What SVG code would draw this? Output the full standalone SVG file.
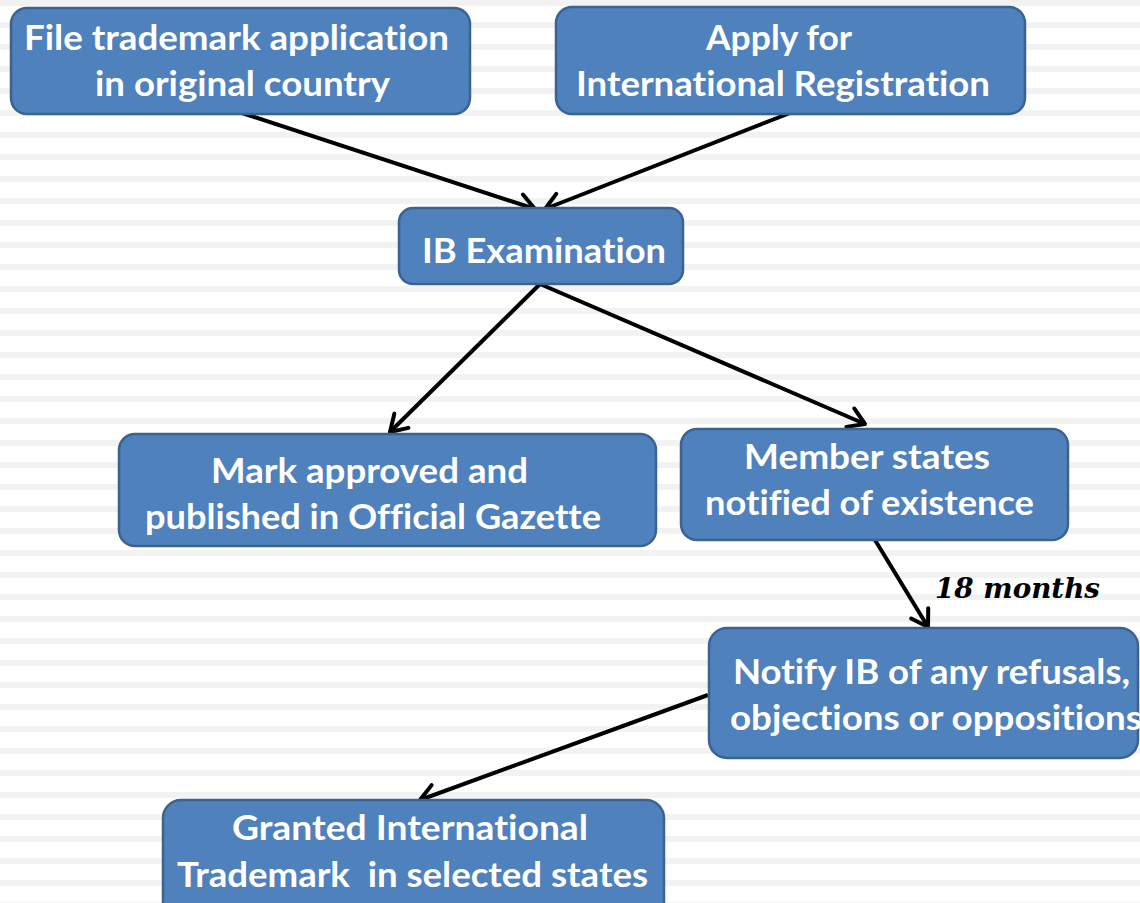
<svg xmlns="http://www.w3.org/2000/svg" width="1140" height="903" viewBox="0 0 1140 903">
<defs>
<pattern id="stripes" x="0" y="0" width="1140" height="22" patternUnits="userSpaceOnUse">
<rect x="0" y="0" width="1140" height="6" fill="#f2f2f2"/>
</pattern>
<marker id="arr" markerUnits="userSpaceOnUse" markerWidth="40" markerHeight="40" viewBox="-20 -20 40 40" refX="0" refY="0" orient="auto">
<path d="M-16,-10 L0,0 L-16,10" fill="none" stroke="#000" stroke-width="4" stroke-linecap="round" stroke-linejoin="round"/>
</marker>
<style>
.box{fill:#4f81bd;stroke:#3a6292;stroke-width:2.5}
.t{font-family:Lato,"Open Sans","Liberation Sans",sans-serif;font-weight:bold;font-size:34px;fill:#fff;font-variant-ligatures:none}
.c{fill:none;stroke:#000;stroke-width:4;marker-end:url(#arr)}
.lbl{font-family:"DejaVu Serif","Liberation Serif",serif;font-style:italic;font-weight:bold;font-size:28px;fill:#000}
</style>
</defs>
<rect width="1140" height="903" fill="#fff"/>
<rect width="1140" height="903" fill="url(#stripes)"/>

<g id="connectors">
<line class="c" x1="242" y1="113" x2="535" y2="209"/>
<line class="c" x1="790" y1="113" x2="545" y2="209"/>
<line class="c" x1="540" y1="284" x2="390" y2="432"/>
<line class="c" x1="540" y1="284" x2="865" y2="424"/>
<line class="c" x1="875" y1="540" x2="928" y2="627"/>
<line class="c" x1="708" y1="695" x2="420" y2="800"/>
<text class="lbl" x="935" y="598" textLength="165" lengthAdjust="spacingAndGlyphs">18 months</text>
</g>

<g id="n1">
<rect class="box" x="11" y="8" width="459" height="106" rx="16"/>
<text class="t" x="24" y="50" textLength="425" lengthAdjust="spacingAndGlyphs">File trademark application</text>
<text class="t" x="95" y="96" textLength="295" lengthAdjust="spacingAndGlyphs">in original country</text>
</g>
<g id="n2">
<rect class="box" x="556" y="7" width="469" height="107" rx="16"/>
<text class="t" x="706" y="50" textLength="146" lengthAdjust="spacingAndGlyphs">Apply for</text>
<text class="t" x="576" y="96" textLength="414" lengthAdjust="spacingAndGlyphs">International Registration</text>
</g>
<g id="n3">
<rect class="box" x="399" y="208" width="284" height="76" rx="14"/>
<text class="t" x="422" y="263" textLength="244" lengthAdjust="spacingAndGlyphs">IB Examination</text>
</g>
<g id="n4">
<rect class="box" x="119" y="434" width="537" height="112" rx="16"/>
<text class="t" x="211" y="483" textLength="317" lengthAdjust="spacingAndGlyphs">Mark approved and</text>
<text class="t" x="145" y="529" textLength="456" lengthAdjust="spacingAndGlyphs">published in Official Gazette</text>
</g>
<g id="n5">
<rect class="box" x="681" y="429" width="387" height="111" rx="16"/>
<text class="t" x="744" y="469" textLength="246" lengthAdjust="spacingAndGlyphs">Member states</text>
<text class="t" x="705" y="515" textLength="329" lengthAdjust="spacingAndGlyphs">notified of existence</text>
</g>
<g id="n6">
<rect class="box" x="709" y="628" width="429" height="130" rx="18"/>
<text class="t" x="733" y="684" textLength="397" lengthAdjust="spacingAndGlyphs">Notify IB of any refusals,</text>
<text class="t" x="730" y="730" textLength="412" lengthAdjust="spacingAndGlyphs">objections or oppositions</text>
</g>
<g id="n7">
<rect class="box" x="163" y="800" width="501" height="130" rx="18"/>
<text class="t" x="232" y="840" textLength="356" lengthAdjust="spacingAndGlyphs">Granted International</text>
<text class="t" x="177" y="887" textLength="471" lengthAdjust="spacingAndGlyphs" xml:space="preserve">Trademark  in selected states</text>
</g>
</svg>
